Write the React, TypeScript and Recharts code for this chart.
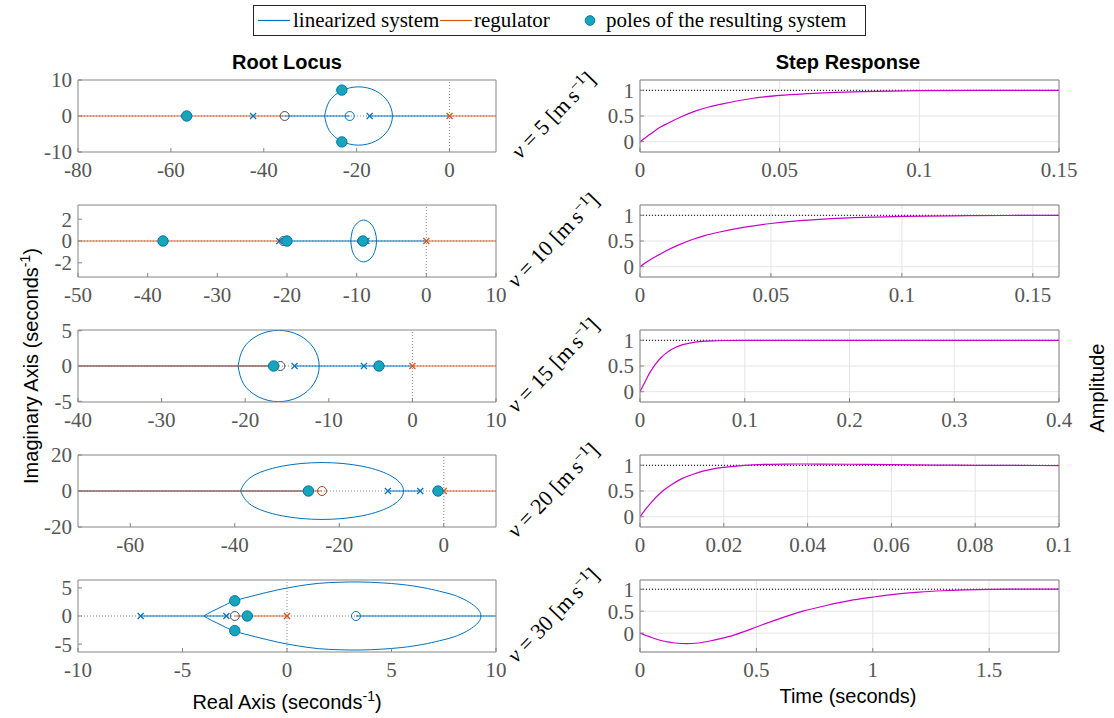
import React from "react";
import {
  ComposedChart, Line, Scatter, XAxis, YAxis, CartesianGrid, ReferenceLine,
} from "recharts";

type Pt = [number, number];

// one row per vehicle speed
const speeds = [5, 10, 15, 20, 30];

// ---- root locus (left column) ----
const rlXLim: Pt[] = [[-80, 10], [-50, 10], [-40, 10], [-70, 10], [-10, 10]];
const rlYLim: Pt[] = [[-10, 10], [-3.3, 3.3], [-5.1, 5.1], [-20, 20], [-6.4, 6.4]];
const rlXTicks = [
  [-80, -60, -40, -20, 0],
  [-50, -40, -30, -20, -10, 0, 10],
  [-40, -30, -20, -10, 0, 10],
  [-60, -40, -20, 0],
  [-10, -5, 0, 5, 10],
];
const rlYTicks = [[-10, 0, 10], [-2, 0, 2], [-5, 0, 5], [-20, 0, 20], [-5, 0, 5]];

// open loop poles / zeros (real axis)
const sysPoles = [[-42.3, -17.2], [-21.1, -8.6], [-14.1, -5.8], [-10.7, -4.5], [-7.0, -2.9]];
const sysZeros = [[-21.5], [], [], [], [3.3]];
const regPoles = [[0], [0], [0], [0], [0]];
const regZeros = [[], [], [], [-23.3], []];
const sharedZeros = [[-35.5], [-20.5, -9.2], [-15.8], [], [-2.5]];

// closed loop poles
const clPoles: Pt[][] = [
  [[-56.6, 0], [-23.2, 7.2], [-23.2, -7.2]],
  [[-37.8, 0], [-20.0, 0], [-9.1, 0]],
  [[-16.6, 0], [-4.0, 0]],
  [[-25.9, 0], [-1.1, 0]],
  [[-2.5, 2.7], [-2.5, -2.6], [-1.9, 0]],
];

// locus segments on the real axis
const sysBranches: Pt[][][] = [
  [[[-35.5, 0], [-21.5, 0]], [[-17.2, 0], [0, 0]]],
  [[[-21.1, 0], [-9.1, 0]], [[-8.6, 0], [0, 0]]],
  [[[-40, 0], [-16.6, 0]], [[-14.1, 0], [0, 0]]],
  [[[-70, 0], [-25.9, 0]], [[-10.7, 0], [-4.5, 0]]],
  [[[-7.0, 0], [-2.9, 0]], [[3.3, 0], [10, 0]]],
];
const regBranches: Pt[][][] = [
  [[[-80, 0], [-35.5, 0]], [[0, 0], [10, 0]]],
  [[[-50, 0], [-21.1, 0]], [[0, 0], [10, 0]]],
  [[[-40, 0], [-16.6, 0]], [[0, 0], [10, 0]]],
  [[[-70, 0], [-23.3, 0]], [[-1.1, 0], [10, 0]]],
  [[[-2.5, 0], [0, 0]]],
];

// complex branches (closed loops)
const sysLoops: Pt[][] = [
  [[-26.9, 0], [-25.9, 4.05], [-23.25, 7.0], [-19.6, 8.1], [-15.95, 7.0], [-13.3, 4.05], [-12.3, 0],
   [-13.3, -4.05], [-15.95, -7.0], [-19.6, -8.1], [-23.25, -7.0], [-25.9, -4.05], [-26.9, 0]],
  [[-10.85, 0], [-10.65, 0.85], [-10.2, 1.45], [-9.6, 1.8], [-9.0, 1.92], [-8.4, 1.8], [-7.8, 1.45],
   [-7.35, 0.85], [-7.15, 0], [-7.35, -0.85], [-7.8, -1.45], [-8.4, -1.8], [-9.0, -1.92], [-9.6, -1.8],
   [-10.2, -1.45], [-10.65, -0.85], [-10.85, 0]],
  [[-20.85, 0], [-20.2, 2.53], [-18.43, 4.37], [-16, 5.05], [-13.57, 4.37], [-11.8, 2.53], [-11.15, 0],
   [-11.8, -2.53], [-13.57, -4.37], [-16, -5.05], [-18.43, -4.37], [-20.2, -2.53], [-20.85, 0]],
  [[-38.9, 0], [-36.8, 7.9], [-31.1, 13.7], [-23.3, 15.8], [-15.5, 13.7], [-9.8, 7.9], [-7.7, 0],
   [-9.8, -7.9], [-15.5, -13.7], [-23.3, -15.8], [-31.1, -13.7], [-36.8, -7.9], [-38.9, 0]],
  [[-3.98, 0], [-3.6, 0.8], [-3.1, 1.7], [-2.5, 2.7], [-1.5, 3.7], [-0.5, 4.6], [0.5, 5.3], [1.5, 5.8],
   [2.5, 6.0], [3.5, 6.05], [4.5, 5.9], [5.5, 5.6], [6.5, 5.05], [7.3, 4.4], [8.0, 3.7], [8.6, 2.7],
   [9.0, 1.7], [9.22, 0.8], [9.28, 0], [9.22, -0.8], [9.0, -1.7], [8.6, -2.7], [8.0, -3.7], [7.3, -4.4],
   [6.5, -5.05], [5.5, -5.6], [4.5, -5.9], [3.5, -6.05], [2.5, -6.0], [1.5, -5.8], [0.5, -5.3],
   [-0.5, -4.6], [-1.5, -3.7], [-2.5, -2.7], [-3.1, -1.7], [-3.6, -0.8], [-3.98, 0]],
];

// ---- step response (right column) ----
const stepXLim: Pt[] = [[0, 0.15], [0, 0.16], [0, 0.4], [0, 0.1], [0, 1.8]];
const stepYLim: Pt[] = [[-0.2, 1.2], [-0.2, 1.2], [-0.2, 1.2], [-0.2, 1.2], [-0.43, 1.21]];
const stepXTicks = [
  [0, 0.05, 0.1, 0.15],
  [0, 0.05, 0.1, 0.15],
  [0, 0.1, 0.2, 0.3, 0.4],
  [0, 0.02, 0.04, 0.06, 0.08, 0.1],
  [0, 0.5, 1, 1.5],
];
const stepYTicks = [0, 0.5, 1];

const stepT = [
  [0, 0.0025, 0.005, 0.0075, 0.01, 0.015, 0.02, 0.025, 0.03, 0.04, 0.05, 0.06, 0.07, 0.08, 0.09, 0.1, 0.12, 0.15],
  [0, 0.0025, 0.005, 0.0075, 0.01, 0.015, 0.02, 0.025, 0.03, 0.04, 0.05, 0.06, 0.07, 0.08, 0.09, 0.1, 0.12, 0.14, 0.16],
  [0, 0.0025, 0.005, 0.0075, 0.01, 0.015, 0.02, 0.025, 0.03, 0.04, 0.05, 0.06, 0.07, 0.08, 0.1, 0.15, 0.2, 0.3, 0.4],
  [0, 0.001, 0.0025, 0.005, 0.0075, 0.01, 0.0125, 0.015, 0.0175, 0.02, 0.025, 0.03, 0.035, 0.04, 0.05, 0.06, 0.07, 0.08, 0.09, 0.1],
  [0, 0.05, 0.1, 0.15, 0.2, 0.25, 0.3, 0.35, 0.4, 0.45, 0.5, 0.6, 0.7, 0.8, 0.9, 1.0, 1.1, 1.2, 1.3, 1.4, 1.5, 1.6, 1.8],
];
const stepY = [
  [0, 0.1, 0.2, 0.29, 0.36, 0.49, 0.6, 0.68, 0.74, 0.84, 0.9, 0.935, 0.96, 0.975, 0.985, 0.992, 0.998, 1.0],
  [0, 0.09, 0.17, 0.24, 0.31, 0.43, 0.53, 0.61, 0.67, 0.77, 0.84, 0.89, 0.925, 0.95, 0.965, 0.977, 0.99, 0.996, 1.0],
  [0, 0.1, 0.2, 0.3, 0.39, 0.54, 0.66, 0.75, 0.82, 0.91, 0.955, 0.978, 0.99, 0.996, 1.0, 1.0, 1.0, 1.0, 1.0],
  [0, 0.11, 0.26, 0.47, 0.62, 0.74, 0.82, 0.885, 0.93, 0.96, 1.0, 1.018, 1.024, 1.025, 1.02, 1.012, 1.005, 1.0, 0.997, 0.995],
  [0, -0.1, -0.18, -0.225, -0.24, -0.225, -0.18, -0.12, -0.05, 0.04, 0.14, 0.33, 0.5, 0.63, 0.74, 0.82, 0.89, 0.935, 0.965, 0.985, 0.997, 1.0, 1.0],
];

// ---- look ----
const BLUE = "#0072BD";
const ORANGE = "#D95319";
const TEAL = "#17A6B6";
const MAGENTA = "#CC00CC";
const AXIS = "#858585";
const TICK_TXT = "#555555";
const SERIF = "Liberation Serif, DejaVu Serif, serif";
const SANS = "Liberation Sans, Arial, sans-serif";

const ROW_TOP = [80, 205, 330, 455, 580];
const PLOT_H = 72;
const YW = 70;
const XH = 36;
const MT = 12; // room for the top tick label
const MR = 26; // room for the last x tick label

const xy = (pts: Pt[]) => pts.map(([x, y]) => ({ x, y }));
const onAxis = (vals: number[]) => vals.map((x) => ({ x, y: 0 }));

const crossShape = (color: string) => (p: any) => (
  <g stroke={color} strokeWidth={1.2}>
    <line x1={p.cx - 3} y1={p.cy - 3} x2={p.cx + 3} y2={p.cy + 3} />
    <line x1={p.cx - 3} y1={p.cy + 3} x2={p.cx + 3} y2={p.cy - 3} />
  </g>
);
const ringShape = (color: string) => (p: any) => (
  <circle cx={p.cx} cy={p.cy} r={4.5} fill="none" stroke={color} strokeWidth={1} />
);
const poleShape = (p: any) => (
  <circle cx={p.cx} cy={p.cy} r={5.2} fill={TEAL} stroke={BLUE} strokeWidth={1} />
);

function Panel({ left, top, width, xLim, yLim, xTicks, yTicks, grid, children }: any) {
  const tickFont = { fill: TICK_TXT, fontFamily: SERIF, fontSize: 21 };
  return (
    <div style={{ position: "absolute", left: left - YW, top: top - 1 - MT }}>
      <ComposedChart width={YW + width + 1 + MR} height={MT + 1 + PLOT_H + XH}
        margin={{ top: MT, right: MR, bottom: 0, left: 0 }}>
        {grid && <CartesianGrid stroke="#e4e4e4" />}
        <XAxis type="number" dataKey="x" domain={xLim} ticks={xTicks} allowDataOverflow interval={0}
          height={XH} stroke={AXIS} tickSize={-4} tickMargin={14} tick={tickFont} />
        <XAxis xAxisId="top" orientation="top" type="number" domain={xLim} ticks={xTicks} allowDataOverflow
          interval={0} height={1} stroke={AXIS} tickSize={-4} tick={false} />
        <YAxis type="number" dataKey="y" domain={yLim} ticks={yTicks} allowDataOverflow interval={0}
          width={YW} stroke={AXIS} tickSize={-4} tickMargin={10} tick={tickFont} />
        <YAxis yAxisId="right" orientation="right" type="number" domain={yLim} ticks={yTicks} allowDataOverflow
          interval={0} width={1} stroke={AXIS} tickSize={-4} tick={false} />
        {children}
      </ComposedChart>
    </div>
  );
}

function RootLocus({ i }: { i: number }) {
  return (
    <Panel left={78} top={ROW_TOP[i]} width={418} xLim={rlXLim[i]} yLim={rlYLim[i]}
      xTicks={rlXTicks[i]} yTicks={rlYTicks[i]}>
      <ReferenceLine y={0} stroke="#8a8a8a" strokeDasharray="1 2" />
      <ReferenceLine x={0} stroke="#8a8a8a" strokeDasharray="1 2" />
      {sysBranches[i].map((seg, k) => (
        <Line key={"sb" + k} data={xy(seg)} dataKey="y" stroke={BLUE} strokeWidth={1} dot={false} isAnimationActive={false} />
      ))}
      <Line data={xy(sysLoops[i])} dataKey="y" type="natural" stroke={BLUE} strokeWidth={1} dot={false} isAnimationActive={false} />
      {regBranches[i].map((seg, k) => (
        <Line key={"rb" + k} data={xy(seg)} dataKey="y" stroke={ORANGE} strokeOpacity={0.85} strokeWidth={1.2} dot={false} isAnimationActive={false} />
      ))}
      <Scatter data={onAxis(sysPoles[i])} shape={crossShape(BLUE)} isAnimationActive={false} />
      <Scatter data={onAxis(regPoles[i])} shape={crossShape(ORANGE)} isAnimationActive={false} />
      <Scatter data={onAxis(sysZeros[i])} shape={ringShape(BLUE)} isAnimationActive={false} />
      <Scatter data={onAxis(regZeros[i])} shape={ringShape("#A0442A")} isAnimationActive={false} />
      <Scatter data={onAxis(sharedZeros[i])} shape={ringShape("#4a4d57")} isAnimationActive={false} />
      <Scatter data={xy(clPoles[i])} shape={poleShape} isAnimationActive={false} />
    </Panel>
  );
}

function StepPanel({ i }: { i: number }) {
  const data = stepT[i].map((t, k) => ({ x: t, y: stepY[i][k] }));
  return (
    <Panel left={640} top={ROW_TOP[i]} width={419} xLim={stepXLim[i]} yLim={stepYLim[i]}
      xTicks={stepXTicks[i]} yTicks={stepYTicks} grid>
      <ReferenceLine y={1} stroke="#000" strokeDasharray="1 2" />
      <Line data={data} dataKey="y" type="monotone" stroke={MAGENTA} strokeWidth={1.2} dot={false} isAnimationActive={false} />
    </Panel>
  );
}

export default function App() {
  return (
    <div style={{ position: "absolute", left: 0, top: 0, width: 1114, height: 718, background: "#fff" }}>
      {speeds.map((_, i) => <RootLocus key={"rl" + i} i={i} />)}
      {speeds.map((_, i) => <StepPanel key={"st" + i} i={i} />)}
      <svg width={1114} height={718} style={{ position: "absolute", left: 0, top: 0, pointerEvents: "none" }}>
        {/* legend */}
        <rect x={253.5} y={5.5} width={612} height={30} fill="none" stroke="#262626" />
        <line x1={258} x2={290} y1={20.5} y2={20.5} stroke={BLUE} strokeWidth={1.2} />
        <text x={293} y={27} fontFamily={SERIF} fontSize={21} fill="#000">linearized system</text>
        <line x1={440} x2={472} y1={20.5} y2={20.5} stroke={ORANGE} strokeWidth={1.2} />
        <text x={474} y={27} fontFamily={SERIF} fontSize={21} fill="#000">regulator</text>
        <circle cx={590} cy={20.5} r={4.8} fill={TEAL} stroke={BLUE} />
        <text x={606} y={27} fontFamily={SERIF} fontSize={21} fill="#000">poles of the resulting system</text>

        {/* titles */}
        <text x={287} y={69} textAnchor="middle" fontFamily={SANS} fontSize={20} fontWeight="bold">Root Locus</text>
        <text x={848} y={69} textAnchor="middle" fontFamily={SANS} fontSize={20} fontWeight="bold">Step Response</text>

        {/* axis labels */}
        <text transform="translate(38,366) rotate(-90)" textAnchor="middle" fontFamily={SANS} fontSize={20}>
          Imaginary Axis (seconds<tspan dy={-8} fontSize={14}>-1</tspan><tspan dy={8}>)</tspan>
        </text>
        <text x={287} y={709} textAnchor="middle" fontFamily={SANS} fontSize={20}>
          Real Axis (seconds<tspan dy={-8} fontSize={14}>-1</tspan><tspan dy={8}>)</tspan>
        </text>
        <text x={848} y={703} textAnchor="middle" fontFamily={SANS} fontSize={20}>Time (seconds)</text>
        <text transform="translate(1104,388) rotate(-90)" textAnchor="middle" fontFamily={SANS} fontSize={20}>Amplitude</text>

        {/* row labels */}
        {speeds.map((v, i) => (
          <text key={"v" + i} transform={`translate(553,${ROW_TOP[i] + 35}) rotate(-46)`} textAnchor="middle"
            dy="0.35em" fontFamily={SERIF} fontSize={22} fill="#000">
            <tspan fontStyle="italic">v</tspan> = {v} [m{"\u2009"}s<tspan dy={-8} fontSize={15}>{"\u22121"}</tspan><tspan dy={8}>]</tspan>
          </text>
        ))}
      </svg>
    </div>
  );
}
